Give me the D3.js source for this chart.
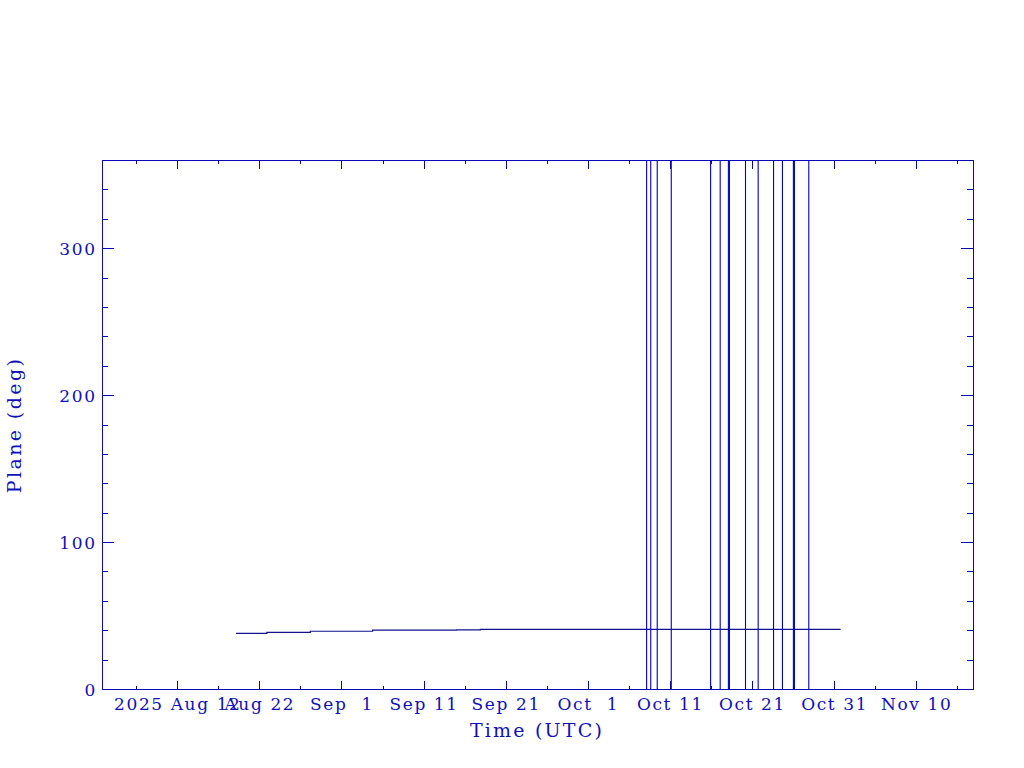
<!DOCTYPE html>
<html>
<head>
<meta charset="utf-8">
<script src="https://cdn.jsdelivr.net/npm/d3@7"></script>
<style>
  html, body { margin: 0; padding: 0; background: #ffffff; }
  svg { display: block; }
  text { font-family: "DejaVu Serif", "Liberation Serif", serif; fill: #1010b8; white-space: pre; }
</style>
</head>
<body>
<svg id="chart" width="1024" height="768"></svg>
<script>
// ---- data ----
const stepTimes  = ["2025-08-19T04:00Z", "2025-08-22T22:00Z", "2025-08-28T05:00Z", "2025-09-04T19:00Z",
                    "2025-09-15T00:00Z", "2025-09-17T22:00Z", "2025-10-31T19:00Z"];
const stepValues = [37.9, 38.6, 39.3, 40.0, 40.3, 40.6, 40.6];

// times where the plane angle wraps through the full 0..360 range
const wrapTimes = ["2025-10-08T04:00Z", "2025-10-08T16:00Z", "2025-10-09T11:00Z", "2025-10-11T04:00Z",
                   "2025-10-15T23:00Z", "2025-10-17T03:00Z", "2025-10-18T03:00Z", "2025-10-18T06:00Z",
                   "2025-10-20T05:00Z", "2025-10-21T18:00Z", "2025-10-23T15:00Z", "2025-10-24T17:00Z",
                   "2025-10-26T01:00Z", "2025-10-26T04:00Z", "2025-10-27T22:00Z"];

const timeDomain = ["2025-08-02T20:00Z", "2025-11-16T22:00Z"];
const firstTick = "2025-08-12T00:00Z";
const xTickLabels = ["2025 Aug 12", "Aug 22", "Sep  1", "Sep 11", "Sep 21", "Oct  1",
                     "Oct 11", "Oct 21", "Oct 31", "Nov 10"];
const yDomain = [0, 360];
const yMajorTicks = [0, 100, 200, 300];
const yTickLabels = ["0", "100", "200", "300"];
const xTitle = "Time (UTC)";
const yTitle = "Plane (deg)";

// ---- layout ----
const X0 = 102, X1 = 973, Y0 = 160, Y1 = 689;
const AX = "#0a0ab4";
const svg = d3.select("#chart");

const x = d3.scaleUtc().domain(timeDomain.map(d => new Date(d))).range([X0, X1]);
const y = d3.scaleLinear().domain(yDomain).range([Y1, Y0]);

const t0 = new Date(firstTick);
const majorX = xTickLabels.map((_, i) => d3.utcDay.offset(t0, 10 * i));
const minorX = d3.range(-1, 20).map(i => d3.utcDay.offset(t0, 5 * i))
  .filter(d => d > x.domain()[0] && d < x.domain()[1]);
const minorY = d3.range(0, 361, 20);

function styleAxis(g) {
  g.select(".domain").remove();
  g.selectAll("line").attr("stroke", AX).attr("stroke-width", 1).attr("shape-rendering", "crispEdges");
}

// x axes (ticks inside)
svg.append("g").attr("transform", `translate(0,${Y1})`)
  .call(d3.axisBottom(x).tickValues(minorX).tickSize(-3.5).tickFormat(""))
  .call(styleAxis).selectAll("text").remove();
const bx = svg.append("g").attr("transform", `translate(0,${Y1})`)
  .call(d3.axisBottom(x).tickValues(majorX).tickSize(-8).tickFormat((d, i) => xTickLabels[i]))
  .call(styleAxis);
bx.selectAll("text")
  .attr("y", 21).attr("dy", 0)
  .attr("font-size", 17).attr("letter-spacing", 1.6)
  .attr("fill", "#1010b8")
  .attr("font-family", "DejaVu Serif");

svg.append("g").attr("transform", `translate(0,${Y0})`)
  .call(d3.axisTop(x).tickValues(minorX).tickSize(-4).tickFormat(""))
  .call(styleAxis).selectAll("text").remove();
svg.append("g").attr("transform", `translate(0,${Y0})`)
  .call(d3.axisTop(x).tickValues(majorX).tickSize(-9).tickFormat(""))
  .call(styleAxis).selectAll("text").remove();

// y axes
svg.append("g").attr("transform", `translate(${X0},0)`)
  .call(d3.axisLeft(y).tickValues(minorY).tickSize(-6).tickFormat(""))
  .call(styleAxis).selectAll("text").remove();
const ly = svg.append("g").attr("transform", `translate(${X0},0)`)
  .call(d3.axisLeft(y).tickValues(yMajorTicks).tickSize(-12).tickFormat((d, i) => yTickLabels[i]))
  .call(styleAxis);
ly.selectAll("text")
  .attr("x", -5).attr("dy", "0.36em")
  .attr("font-size", 17).attr("letter-spacing", 1.8)
  .attr("fill", "#1010b8")
  .attr("font-family", "DejaVu Serif");

svg.append("g").attr("transform", `translate(${X1},0)`)
  .call(d3.axisRight(y).tickValues(minorY).tickSize(-6).tickFormat(""))
  .call(styleAxis).selectAll("text").remove();
svg.append("g").attr("transform", `translate(${X1},0)`)
  .call(d3.axisRight(y).tickValues(yMajorTicks).tickSize(-12).tickFormat(""))
  .call(styleAxis).selectAll("text").remove();

// frame
svg.append("rect")
  .attr("x", X0).attr("y", Y0).attr("width", X1 - X0).attr("height", Y1 - Y0)
  .attr("fill", "none").attr("stroke", AX).attr("stroke-width", 1)
  .attr("shape-rendering", "crispEdges");

// data: step line
const stepData = stepTimes.map((t, i) => ({ t: new Date(t), v: stepValues[i] }));
svg.append("path")
  .datum(stepData)
  .attr("fill", "none")
  .attr("stroke", "#12128e")
  .attr("stroke-width", 1.2)
  .attr("d", d3.line().x(d => x(d.t)).y(d => y(d.v)).curve(d3.curveStepAfter));

// data: wrap-around verticals (0 -> 360)
svg.append("g").selectAll("line")
  .data(wrapTimes.map(t => new Date(t)))
  .join("line")
  .attr("x1", d => x(d)).attr("x2", d => x(d))
  .attr("y1", y(yDomain[0])).attr("y2", y(yDomain[1]))
  .attr("stroke", "#0000c0")
  .attr("stroke-width", 1.1);

// titles
svg.append("text")
  .attr("x", 537).attr("y", 737)
  .attr("text-anchor", "middle")
  .attr("font-size", 19).attr("letter-spacing", 2.2)
  .text(xTitle);
svg.append("text")
  .attr("transform", "translate(21,425) rotate(-90)")
  .attr("text-anchor", "middle")
  .attr("font-size", 19).attr("letter-spacing", 2.4)
  .text(yTitle);
</script>
</body>
</html>
